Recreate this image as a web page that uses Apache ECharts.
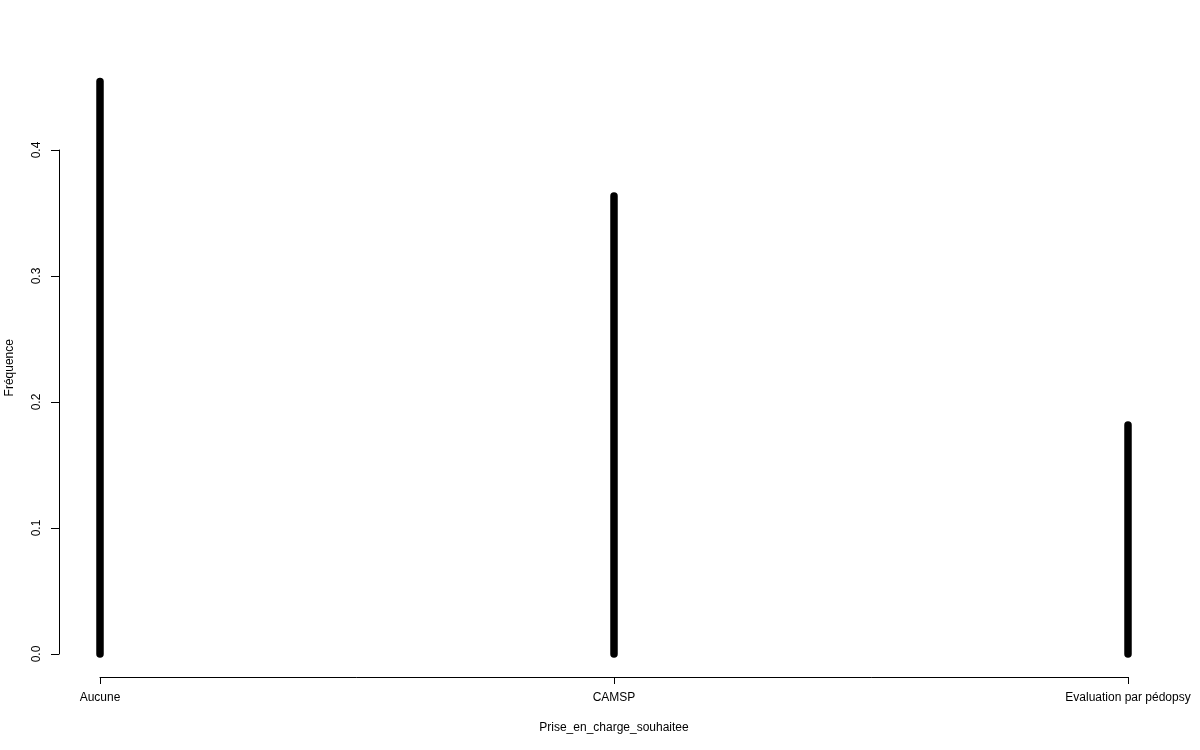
<!DOCTYPE html>
<html>
<head>
<meta charset="utf-8">
<script src="https://cdn.jsdelivr.net/npm/echarts@6/dist/echarts.min.js"></script>
<style>
html,body{margin:0;padding:0;background:#fff;}
#chart{width:1200px;height:750px;}
</style>
</head>
<body>
<div id="chart"></div>
<script>
const categories = ['Aucune', 'CAMSP', 'Evaluation par pédopsy'];
const frequencies = [0.4545, 0.3636, 0.1818];
const yTicks = [0, 0.1, 0.2, 0.3, 0.4];
const xTitle = 'Prise_en_charge_souhaitee';
const yTitle = 'Fréquence';

const FONT = '"Liberation Sans", Arial, sans-serif';
const yMaxData = Math.max(...frequencies);
const pad = yMaxData * 0.04;

const chart = echarts.init(document.getElementById('chart'));
chart.setOption({
  animation: false,
  backgroundColor: '#fff',
  textStyle: { fontFamily: FONT, color: '#000' },
  grid: [
    { left: 100, right: 72, top: 58.5, bottom: 73, containLabel: false, outerBoundsMode: 'none' },
    { left: 59, width: 1, top: 150, bottom: 96, containLabel: false, outerBoundsMode: 'none' }
  ],
  xAxis: [
    {
      gridIndex: 0, type: 'category', data: categories, boundaryGap: false,
      name: xTitle, nameLocation: 'middle', nameGap: 45,
      nameTextStyle: { fontFamily: FONT, fontSize: 12, color: '#000' },
      axisLine: { show: true, onZero: false, lineStyle: { color: '#000', width: 1 } },
      axisTick: { show: true, length: 7, alignWithLabel: true, lineStyle: { color: '#000', width: 1 } },
      axisLabel: { show: true, margin: 15, fontFamily: FONT, fontSize: 12, color: '#000', interval: 0, hideOverlap: false },
      splitLine: { show: false }
    },
    { gridIndex: 1, type: 'value', show: false }
  ],
  yAxis: [
    {
      gridIndex: 0, type: 'value', min: -pad, max: yMaxData + pad,
      name: yTitle, nameLocation: 'middle', nameGap: 84, nameRotate: 90,
      nameTextStyle: { fontFamily: FONT, fontSize: 12, color: '#000' },
      axisLine: { show: false }, axisTick: { show: false },
      axisLabel: { show: false }, splitLine: { show: false }
    },
    {
      gridIndex: 1, type: 'value', min: yTicks[0], max: yTicks[yTicks.length - 1], interval: 0.1,
      axisLine: { show: true, onZero: false, lineStyle: { color: '#000', width: 1 } },
      axisTick: { show: true, length: 8, lineStyle: { color: '#000', width: 1 } },
      axisLabel: { show: true, rotate: 90, margin: 16, fontFamily: FONT, fontSize: 12, color: '#000',
        formatter: v => v.toFixed(1) },
      splitLine: { show: false }
    }
  ],
  series: [{
    type: 'custom',
    xAxisIndex: 0, yAxisIndex: 0,
    data: frequencies.map((v, i) => [i, v]),
    renderItem: function (params, api) {
      const p0 = api.coord([api.value(0), 0]);
      const p1 = api.coord([api.value(0), api.value(1)]);
      return {
        type: 'line',
        shape: { x1: p0[0], y1: p0[1], x2: p1[0], y2: p1[1] },
        style: { stroke: '#000', lineWidth: 7.5, lineCap: 'round' }
      };
    }
  }]
});
</script>
</body>
</html>
